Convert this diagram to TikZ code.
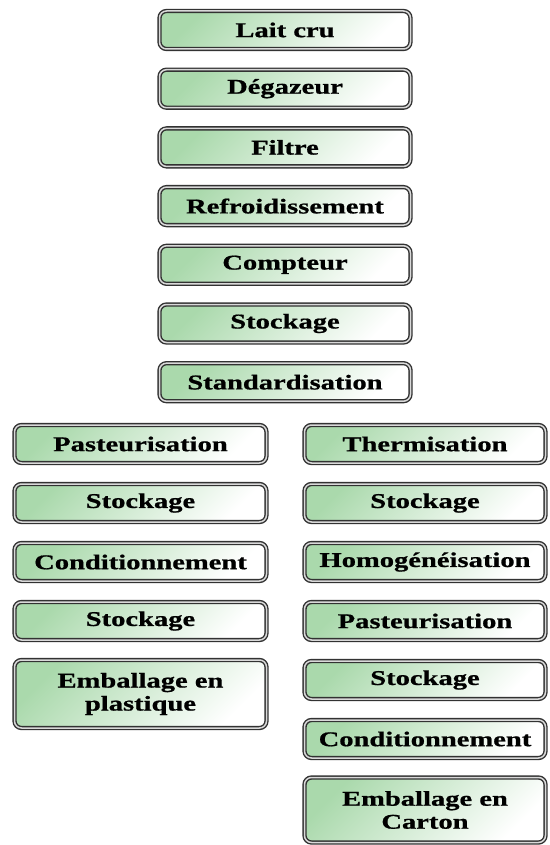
\documentclass[tikz,border=0pt]{standalone}
\usepackage{fontspec}
\setmainfont[FakeStretch=1.36, BoldFeatures={FakeBold=0.8}]{Liberation Serif}
\definecolor{boxgreen}{RGB}{170,217,172}
\definecolor{boxline}{RGB}{50,50,50}
\tikzset{
  etape/.style={draw=boxline, double=gray!30, line width=1.4pt, double distance=1.5pt,
    rounded corners=7pt, left color=boxgreen, middle color=boxgreen!30!white,
    right color=white, shading angle=45,
    minimum width=251pt, minimum height=38pt, inner sep=0pt, align=center,
    font=\bfseries\fontsize{21}{23}\selectfont},
  etapeL/.style={etape, minimum width=252pt},
  etapeR/.style={etape, minimum width=241pt}
}
\begin{document}
\begin{tikzpicture}[x=1pt, y=-1pt]
    \useasboundingbox (0,0) rectangle (549,845);

    % tronc commun
    \foreach \txt [count=\i] in {Lait cru, Dégazeur, Filtre, Refroidissement,
                                 Compteur, Stockage, Standardisation}
        \node[etape] (main\i) at (285, {30+58.7*(\i-1)}) {\txt};

    % branche gauche
    \foreach \txt [count=\i] in {Pasteurisation, Stockage, Conditionnement, Stockage}
        \node[etapeL] (left\i) at (140.5, {444+59*(\i-1)}) {\txt};
    \node[etapeL, minimum height=68pt] (left5) at (140.5,694) {Emballage en\\plastique};

    % branche droite
    \foreach \txt [count=\i] in {Thermisation, Stockage, Homogénéisation,
                                 Pasteurisation, Stockage, Conditionnement}
        \node[etapeR] (right\i) at (425, {444+59*(\i-1)}) {\txt};
    \node[etapeR, minimum height=65pt] (right7) at (425,810) {Emballage en\\Carton};
\end{tikzpicture}
\end{document}
